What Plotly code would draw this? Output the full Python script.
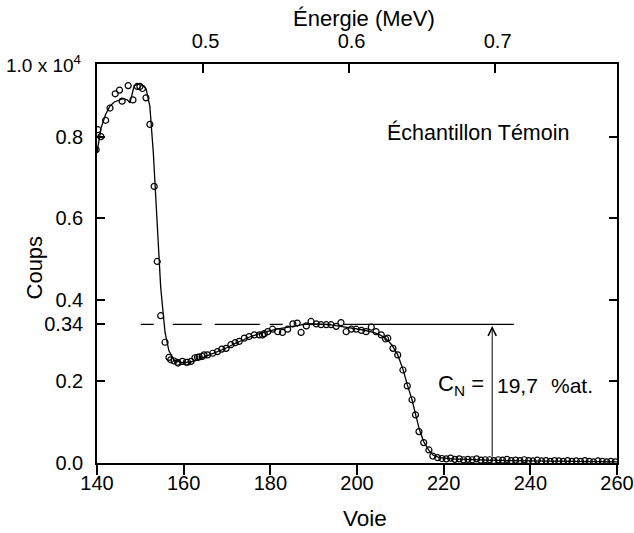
import plotly.graph_objects as go

# ---- data ----
voie_pts = [139.8, 140.2, 140.9, 142.0, 143.0, 144.2, 145.2, 145.8, 147.2, 148.3, 149.3, 149.9,
            150.5, 151.3, 152.2, 153.2, 153.9, 154.7, 155.7, 156.6, 157.0, 157.8, 158.6, 158.7,
            159.7, 160.6, 160.9, 161.7, 162.6, 163.2, 163.6, 164.3, 164.7, 165.5, 166.7, 167.8,
            168.8, 169.8, 170.9, 171.9, 172.8, 174.0, 175.1, 176.3, 177.5, 178.2, 178.6, 179.4,
            180.5, 181.7, 182.8, 184.0, 185.2, 186.2, 187.1, 188.3, 189.4, 190.6, 191.7, 192.9,
            194.0, 195.2, 196.3, 197.5, 198.7, 199.8, 201.0, 202.1, 203.3, 204.4, 205.6, 206.6,
            207.1, 208.3, 209.4, 210.6, 211.6, 212.7, 213.5, 214.3, 215.4, 216.6, 217.5, 218.6,
            219.6, 220.6, 221.6, 222.6, 223.6, 224.6, 225.6, 226.6, 227.6, 228.6, 229.6, 230.6,
            231.6, 232.6, 233.6, 234.6, 235.6, 236.6, 237.6, 238.6, 239.6, 240.6, 241.6, 242.6,
            243.6, 244.6, 245.6, 246.6, 247.6, 248.6, 249.6, 250.6, 251.6, 252.6, 253.6, 254.6,
            255.6, 256.6, 257.6, 258.6, 259.6]
coups_pts = [0.768, 0.817, 0.800, 0.840, 0.870, 0.905, 0.914, 0.887, 0.925, 0.890, 0.923, 0.923,
             0.918, 0.895, 0.830, 0.678, 0.494, 0.361, 0.296, 0.259, 0.253, 0.250, 0.247, 0.245,
             0.249, 0.247, 0.247, 0.249, 0.258, 0.259, 0.260, 0.261, 0.265, 0.265, 0.269, 0.273,
             0.279, 0.281, 0.290, 0.295, 0.298, 0.306, 0.310, 0.314, 0.314, 0.314, 0.317, 0.322,
             0.328, 0.322, 0.320, 0.328, 0.341, 0.343, 0.320, 0.336, 0.347, 0.341, 0.339, 0.339,
             0.339, 0.335, 0.344, 0.322, 0.328, 0.328, 0.325, 0.322, 0.333, 0.322, 0.314, 0.304,
             0.306, 0.281, 0.265, 0.228, 0.189, 0.155, 0.118, 0.077, 0.050, 0.032, 0.017, 0.013,
             0.011, 0.010, 0.012, 0.009, 0.010, 0.008, 0.009, 0.008, 0.010, 0.007, 0.008, 0.008,
             0.006, 0.008, 0.007, 0.009, 0.006, 0.007, 0.006, 0.008, 0.006, 0.005, 0.007, 0.005,
             0.006, 0.004, 0.006, 0.005, 0.004, 0.006, 0.004, 0.005, 0.004, 0.006, 0.004, 0.003,
             0.005, 0.004, 0.003, 0.004, 0.003]

voie_fit = [140.0, 140.9, 142.0, 143.0, 144.0, 145.0, 146.0, 147.0, 147.6, 148.6, 150.0, 151.3,
            152.2, 153.0, 153.9, 154.7, 155.7, 156.6, 157.8, 159.5, 161.5, 163.5, 165.5, 167.5,
            169.5, 171.5, 173.5, 175.5, 177.5, 179.5, 181.5, 183.5, 185.5, 187.5, 189.5, 191.5,
            193.5, 195.5, 197.5, 199.5, 201.5, 203.5, 205.0, 206.6, 208.0, 209.4, 210.6, 211.6,
            212.7, 213.5, 214.4, 215.4, 216.6, 217.6, 219.0, 222.0, 226.0, 230.0, 240.0, 250.0,
            260.0]
coups_fit = [0.760, 0.820, 0.855, 0.875, 0.885, 0.890, 0.893, 0.890, 0.883, 0.925, 0.930, 0.918,
             0.874, 0.760, 0.600, 0.430, 0.320, 0.275, 0.252, 0.246, 0.247, 0.254, 0.263, 0.271,
             0.280, 0.291, 0.301, 0.310, 0.317, 0.323, 0.328, 0.332, 0.336, 0.339, 0.341, 0.340,
             0.339, 0.336, 0.333, 0.330, 0.326, 0.321, 0.316, 0.306, 0.290, 0.265, 0.230, 0.192,
             0.155, 0.120, 0.082, 0.052, 0.031, 0.019, 0.013, 0.010, 0.008, 0.007, 0.005, 0.004,
             0.003]

yticks = [0.0, 0.2, 0.34, 0.4, 0.6, 0.8]
ytick_labels = ["0.0", "0.2", "0.34", "0.4", "0.6", "0.8"]
xticks = [140, 160, 180, 200, 220, 240, 260]
energy_ticks = [0.5, 0.6, 0.7]
energy_labels = ["0.5", "0.6", "0.7"]
energy_range = [0.4277, 0.7838]   # energy at voie 140 and 260
level = 0.34                       # C_N reference level
level_dash_x = [150.1, 206.9]
level_solid_x = [206.9, 236.2]
arrow_x = 231.2

FONT = "Liberation Sans, Arial, sans-serif"

fig = go.Figure()
fig.add_trace(go.Scatter(x=voie_fit, y=coups_fit, mode="lines",
                         line=dict(color="black", width=1.3), hoverinfo="skip", showlegend=False))
fig.add_trace(go.Scatter(x=voie_pts, y=coups_pts, mode="markers",
                         marker=dict(symbol="circle-open", size=6, color="black",
                                     line=dict(width=1.2, color="black")),
                         showlegend=False))
fig.add_trace(go.Scatter(x=level_dash_x, y=[level, level], mode="lines",
                         line=dict(color="black", width=1.3, dash="13px,19px,29px,13px,45px,10px"),
                         hoverinfo="skip", showlegend=False))
fig.add_trace(go.Scatter(x=level_solid_x, y=[level, level], mode="lines",
                         line=dict(color="black", width=1.3), hoverinfo="skip", showlegend=False))
# dummy trace to activate the top (energy) and right axes
fig.add_trace(go.Scatter(x=[energy_ticks[0]], y=[0], xaxis="x2", yaxis="y2", mode="markers",
                         marker=dict(opacity=0), hoverinfo="skip", showlegend=False))

fig.add_annotation(x=arrow_x, y=level - 0.004, ax=arrow_x, ay=0.012, xref="x", yref="y",
                   axref="x", ayref="y", text="", showarrow=True, arrowhead=5, arrowsize=1.6,
                   arrowwidth=1, arrowcolor="black")

fig.add_annotation(x=arrow_x, xshift=-6, y=0.19, xref="x", yref="y", xanchor="right",
                   yanchor="middle", text="C<sub>N</sub> =", showarrow=False,
                   font=dict(family=FONT, size=22, color="black"))
fig.add_annotation(x=arrow_x, xshift=3, y=0.19, xref="x", yref="y", xanchor="left",
                   yanchor="middle", text="19,7", showarrow=False,
                   font=dict(family=FONT, size=21, color="black"))
fig.add_annotation(x=244.3, y=0.19, xref="x", yref="y", xanchor="left", yanchor="middle",
                   text="%at.", showarrow=False,
                   font=dict(family=FONT, size=21, color="black"))
fig.add_annotation(x=227.9, y=0.81, xref="x", yref="y", xanchor="center", yanchor="middle",
                   text="Échantillon Témoin", showarrow=False,
                   font=dict(family=FONT, size=21.5, color="black"))
fig.add_annotation(x=0, xshift=-14, y=1.0, xref="paper", yref="paper", xanchor="right",
                   yanchor="middle", text="1.0 x 10<sup>4</sup>", showarrow=False,
                   font=dict(family=FONT, size=19, color="black"))
fig.add_annotation(x=0.513, y=1.0, yshift=46, xref="paper", yref="paper", xanchor="center",
                   yanchor="middle", text="Énergie (MeV)", showarrow=False,
                   font=dict(family=FONT, size=22, color="black"))
fig.add_annotation(x=0.515, y=0, yshift=-55, xref="paper", yref="paper", xanchor="center",
                   yanchor="middle", text="Voie", showarrow=False,
                   font=dict(family=FONT, size=22.5, color="black"))
fig.add_annotation(x=0, xshift=-63, y=0.49, xref="paper", yref="paper", xanchor="center",
                   yanchor="middle", text="Coups", textangle=-90, showarrow=False,
                   font=dict(family=FONT, size=22, color="black"))

axis_font = dict(family=FONT, size=20, color="black")
fig.update_layout(
    width=634, height=533,
    margin=dict(l=97, r=17, t=64, b=70, pad=0, autoexpand=False),
    paper_bgcolor="white", plot_bgcolor="white",
    xaxis=dict(range=[140, 260], tickvals=xticks, ticks="outside", ticklen=10, tickwidth=1.5,
               tickcolor="black", showline=True, linecolor="black", linewidth=1.6,
               showgrid=False, zeroline=False, tickfont=axis_font, ticklabelstandoff=-9,
               automargin=False),
    yaxis=dict(range=[0, 0.978], tickvals=yticks, ticktext=ytick_labels, ticks="inside",
               ticklen=8, tickwidth=1.5, tickcolor="black", showline=True, linecolor="black",
               linewidth=1.6, showgrid=False, zeroline=False, tickfont=axis_font,
               ticklabelstandoff=8, automargin=False),
    xaxis2=dict(overlaying="x", side="top", range=energy_range, tickvals=energy_ticks,
                ticktext=energy_labels, ticks="inside", ticklen=9, tickwidth=1.5,
                tickcolor="black", showline=True, linecolor="black", linewidth=1.6,
                showgrid=False, zeroline=False, tickfont=axis_font, anchor="y2",
                ticklabelshift=3, ticklabelstandoff=6, automargin=False),
    yaxis2=dict(overlaying="y", side="right", range=[0, 0.978], tickvals=[0.2, 0.4, 0.6, 0.8],
                showticklabels=False, ticks="inside", ticklen=8, tickwidth=1.5,
                tickcolor="black", showline=True, linecolor="black", linewidth=1.6,
                showgrid=False, zeroline=False, anchor="x2", automargin=False),
)

fig.write_html("out.html")
